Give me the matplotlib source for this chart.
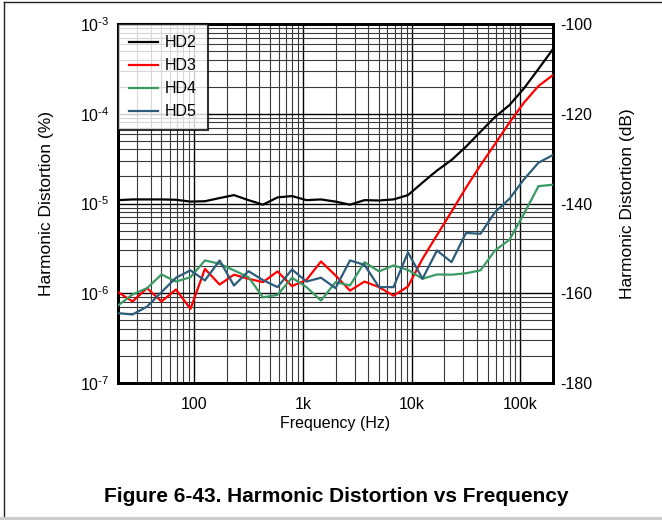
import matplotlib
matplotlib.use("Agg")
import matplotlib.pyplot as plt
from matplotlib.ticker import FixedLocator, LogLocator, NullFormatter, NullLocator
from matplotlib.lines import Line2D

plt.rcParams['font.family'] = ['Liberation Sans', 'DejaVu Sans']
plt.rcParams['axes.unicode_minus'] = False
plt.rcParams['mathtext.fontset'] = 'custom'
plt.rcParams['mathtext.rm'] = 'Liberation Sans'
plt.rcParams['mathtext.it'] = 'Liberation Sans'

# -------------
# DATA
# -------------
freq = [20, 27.2, 37, 50.2, 68.3, 92.8, 126, 172, 233, 317, 431, 586, 796,
        1082, 1471, 2000, 2719, 3696, 5024, 6830, 9283, 12619, 17154, 23318,
        31698, 43089, 58574, 79621, 108234, 147128, 200000]

hd2 = [1.09e-5, 1.11e-5, 1.11e-5, 1.11e-5, 1.10e-5, 1.05e-5, 1.06e-5, 1.15e-5,
       1.24e-5, 1.09e-5, 0.97e-5, 1.17e-5, 1.21e-5, 1.09e-5, 1.11e-5, 1.05e-5,
       0.97e-5, 1.09e-5, 1.08e-5, 1.11e-5, 1.24e-5, 1.71e-5, 2.33e-5, 3.05e-5,
       4.3e-5, 6.3e-5, 9.2e-5, 1.25e-4, 1.92e-4, 3.16e-4, 5.25e-4]
hd3 = [1.03e-6, 8.1e-7, 1.14e-6, 8.1e-7, 1.10e-6, 6.7e-7, 1.87e-6, 1.25e-6,
       1.61e-6, 1.45e-6, 1.33e-6, 1.75e-6, 1.20e-6, 1.41e-6, 2.26e-6, 1.58e-6,
       1.07e-6, 1.35e-6, 1.17e-6, 9.4e-7, 1.19e-6, 2.42e-6, 4.45e-6, 8.1e-6,
       1.5e-5, 2.67e-5, 4.6e-5, 8.0e-5, 1.33e-4, 2.04e-4, 2.7e-4]
hd4 = [7.3e-7, 9.7e-7, 1.14e-6, 1.62e-6, 1.35e-6, 1.51e-6, 2.32e-6, 2.13e-6,
       1.80e-6, 1.51e-6, 9.0e-7, 9.6e-7, 1.49e-6, 1.17e-6, 8.3e-7, 1.33e-6,
       1.22e-6, 2.22e-6, 1.75e-6, 2.04e-6, 1.82e-6, 1.45e-6, 1.62e-6, 1.61e-6,
       1.67e-6, 1.80e-6, 3.0e-6, 3.95e-6, 7.7e-6, 1.56e-5, 1.62e-5]
hd5 = [6.0e-7, 5.8e-7, 7.1e-7, 1.03e-6, 1.49e-6, 1.80e-6, 1.39e-6, 2.32e-6,
       1.22e-6, 1.76e-6, 1.40e-6, 1.17e-6, 1.84e-6, 1.35e-6, 1.49e-6, 1.14e-6,
       2.32e-6, 2.07e-6, 1.17e-6, 1.17e-6, 2.85e-6, 1.45e-6, 3.0e-6, 2.22e-6,
       4.7e-6, 4.6e-6, 8.0e-6, 1.13e-5, 1.86e-5, 2.85e-5, 3.47e-5]

labels = ["HD2", "HD3", "HD4", "HD5"]
colors = ["black", "#ff0000", "#3a9a64", "#2d5d7b"]

xticks = [100, 1000, 10000, 100000]
xticklabels = ["100", "1k", "10k", "100k"]
yticks = [1e-7, 1e-6, 1e-5, 1e-4, 1e-3]
yticklabels = [r"10$^{\text{-7}}$", r"10$^{\text{-6}}$", r"10$^{\text{-5}}$",
               r"10$^{\text{-4}}$", r"10$^{\text{-3}}$"]
db_ticks = [-180, -160, -140, -120, -100]

# -------------
# PLOTTING
# -------------
fig = plt.figure(figsize=(6.62, 5.20), dpi=100)
ax = fig.add_axes([118/662, 1-383/520, (553-118)/662, (383-24)/520])

for y, lab, c in zip([hd2, hd3, hd4, hd5], labels, colors):
    ax.plot(freq, y, color=c, lw=1.6, label=lab, zorder=3)

ax.set_xscale("log")
ax.set_yscale("log")
ax.set_xlim(20, 200000)
ax.set_ylim(1e-7, 1e-3)

ax.xaxis.set_major_locator(FixedLocator(xticks))
ax.set_xticklabels(xticklabels)
ax.xaxis.set_minor_locator(LogLocator(base=10, subs=range(2, 10), numticks=20))
ax.xaxis.set_minor_formatter(NullFormatter())
ax.yaxis.set_major_locator(FixedLocator(yticks))
ax.set_yticklabels(yticklabels)
ax.yaxis.set_minor_locator(LogLocator(base=10, subs=range(2, 10), numticks=20))
ax.yaxis.set_minor_formatter(NullFormatter())

ax.grid(True, which="major", color="black", lw=1.0)
ax.grid(True, which="minor", color="#3a3a3a", lw=0.8)
ax.tick_params(which="both", length=0, labelsize=11.5)
ax.tick_params(axis="x", pad=10)
ax.tick_params(axis="y", pad=6)
for s in ax.spines.values():
    s.set_linewidth(2)

ax.set_xlabel("Frequency (Hz)", fontsize=11.5)
ax.xaxis.set_label_coords(0.5, -0.093)
ax.set_ylabel("Harmonic Distortion (%)", fontsize=12.5)
ax.yaxis.set_label_coords(-0.147, 0.5)

ax2 = ax.twinx()
ax2.set_ylim(-180, -100)
ax2.yaxis.set_major_locator(FixedLocator(db_ticks))
ax2.yaxis.set_minor_locator(NullLocator())
ax2.tick_params(length=0, labelsize=11.5, pad=5)
ax2.set_ylabel("Harmonic Distortion (dB)", fontsize=12.5)
ax2.yaxis.set_label_coords(1.155, 0.5)
for s in ax2.spines.values():
    s.set_linewidth(2)

leg = ax.legend(loc="upper left", fontsize=11.5, frameon=True, fancybox=False,
                borderaxespad=0, handlelength=1.8, handletextpad=0.45,
                labelspacing=0.5, borderpad=0.7)
leg.get_frame().set_edgecolor("black")
leg.get_frame().set_linewidth(1.5)
leg.set_zorder(5)
ax.set_zorder(ax2.get_zorder() + 1)
ax.patch.set_visible(False)

fig.text(336/662, 1-496/520, "Figure 6-43. Harmonic Distortion vs Frequency",
         ha="center", va="center", fontsize=15, fontweight="bold")

# page frame
fig.add_artist(Line2D([4/662, 1], [1-2/520, 1-2/520], color="#222222", lw=1))
fig.add_artist(Line2D([4/662, 4/662], [1-2/520, 1-517/520], color="#222222", lw=1))
fig.add_artist(Line2D([0, 1], [1-518.5/520, 1-518.5/520], color="#cccccc", lw=3))

fig.savefig("out.png", dpi=100)
